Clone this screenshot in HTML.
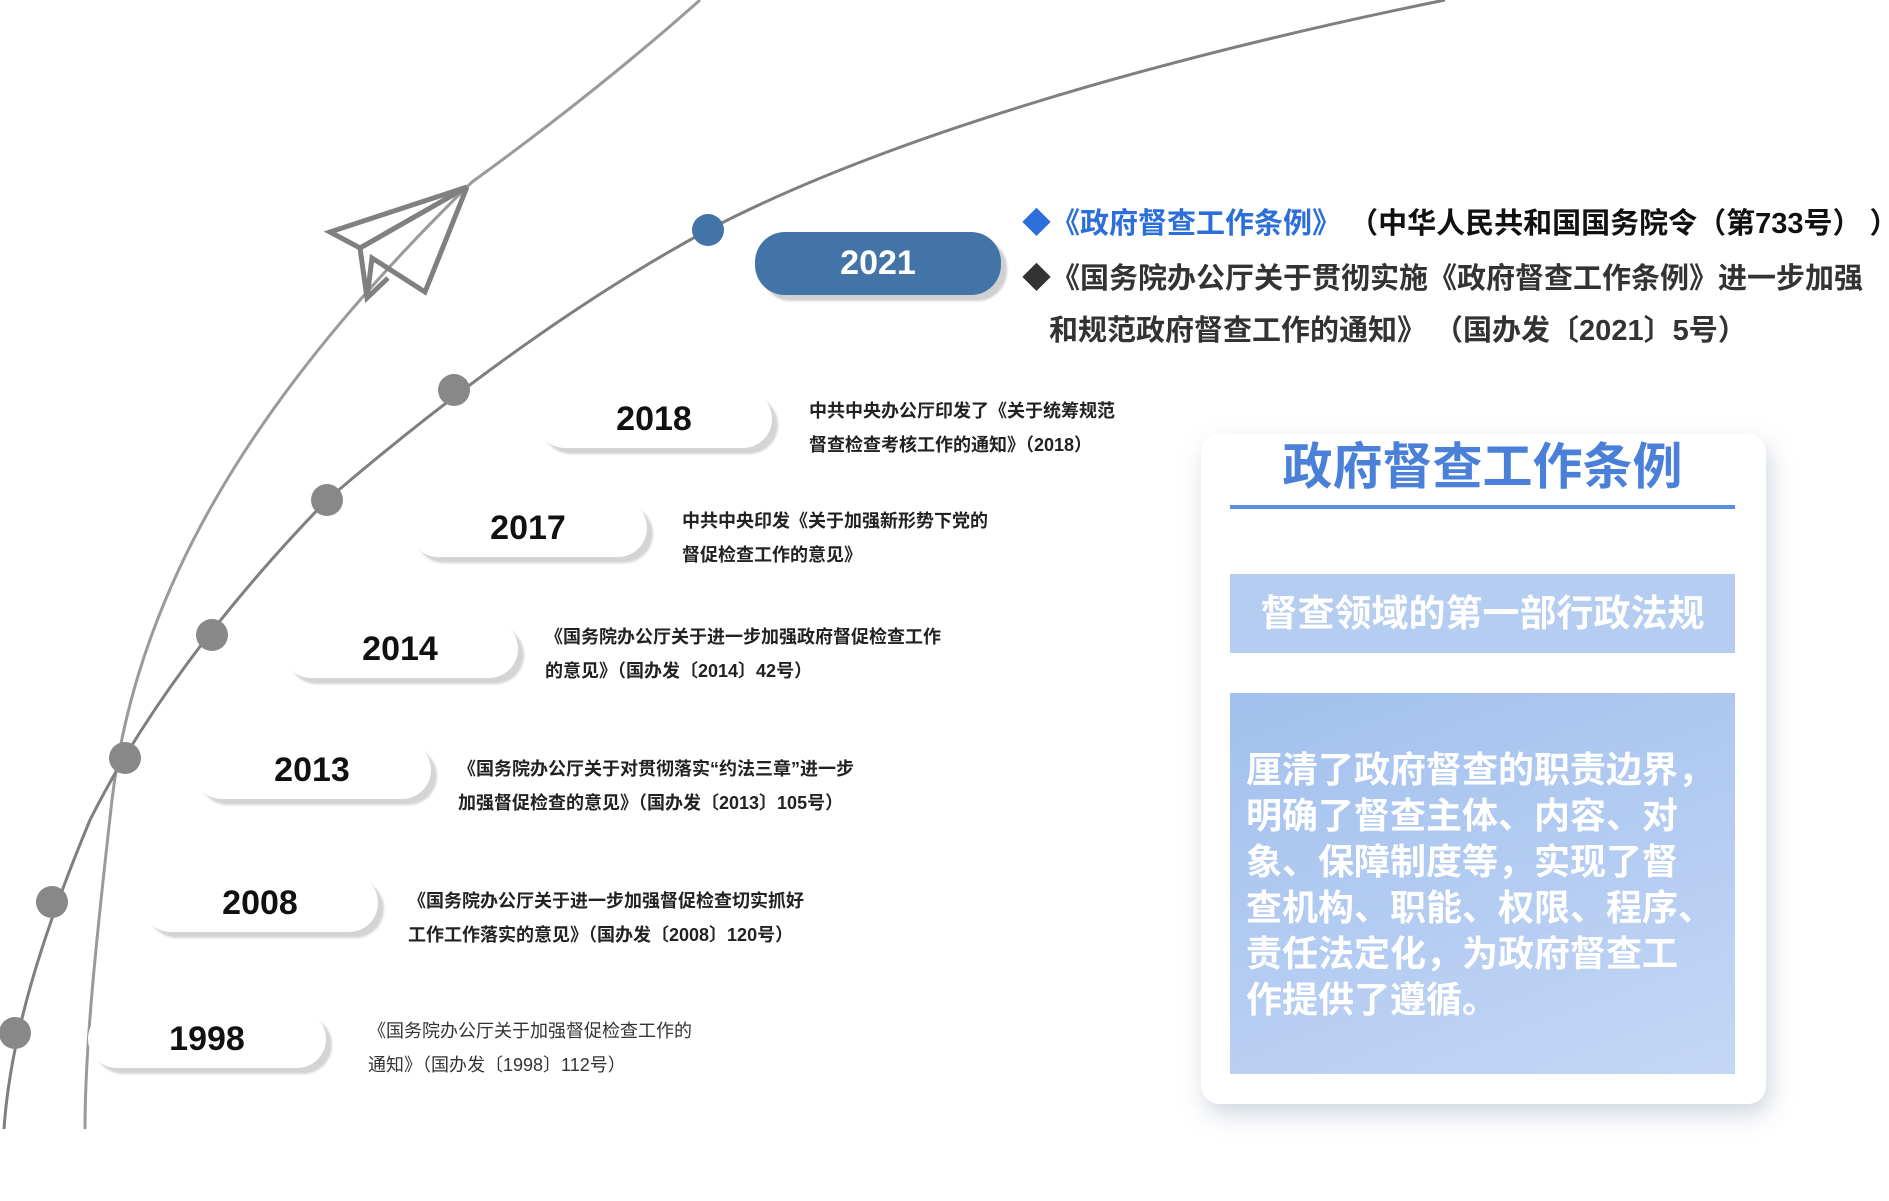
<!DOCTYPE html>
<html><head><meta charset="utf-8"><style>
body{margin:0;width:1889px;height:1201px;background:#fff;position:relative;overflow:hidden;font-family:"Liberation Sans","Noto Sans CJK SC",sans-serif}
.pill{position:absolute;background:#fff;border-radius:30px;box-shadow:6px 6px 2px #d4d4d4;font-weight:bold;font-size:34px;color:#111;text-align:center}
.t{position:absolute;font-weight:bold;font-size:18px;line-height:34px;color:#222;white-space:nowrap}
.r{position:absolute;font-weight:bold;font-size:29px;white-space:nowrap;color:#333}
</style></head><body>
<svg width="1889" height="1201" style="position:absolute;left:0;top:0">
<path d="M700,0 C610,80 530,140 472,182 C290,360 140,560 112,800 C95,950 85,1050 85,1129" fill="none" stroke="#9a9a9a" stroke-width="3"/>
<path d="M1445,0 C1150,60 880,140 708,230 C560,310 420,420 327,500 C220,610 140,720 90,820 C40,940 10,1040 4,1129" fill="none" stroke="#7f7f7f" stroke-width="3"/>
<g fill="none" stroke="#808080" stroke-width="5" stroke-linejoin="miter">
<polygon points="467,187 330,232 360,248"/>
<polyline points="467,187 360,248 367,298 388,278"/>
<polyline points="467,187 425,292 372,258 367,298"/>
</g>
<g fill="#888">
<circle cx="454" cy="390" r="16"/><circle cx="327" cy="500" r="16"/><circle cx="212" cy="635" r="16"/><circle cx="125" cy="758" r="16"/><circle cx="52" cy="902" r="16"/><circle cx="15" cy="1033" r="16"/>
</g>
<circle cx="708" cy="230" r="16" fill="#4374a8"/>
</svg>
<div class="pill" style="left:755px;top:232px;width:246px;height:63px;line-height:63px;background:#4374a8;color:#fff;box-shadow:6px 6px 2px #d0d0d0">2021</div>
<div class="pill" style="left:536px;top:390px;width:236px;height:58px;line-height:58px">2018</div>
<div class="pill" style="left:409px;top:499px;width:238px;height:58px;line-height:58px">2017</div>
<div class="pill" style="left:282px;top:620px;width:236px;height:58px;line-height:58px">2014</div>
<div class="pill" style="left:193px;top:741px;width:238px;height:58px;line-height:58px">2013</div>
<div class="pill" style="left:142px;top:874px;width:236px;height:58px;line-height:58px">2008</div>
<div class="pill" style="left:88px;top:1010px;width:238px;height:58px;line-height:58px">1998</div>
<div class="r" style="left:1022px;top:200px"><span style="color:#2d6fd8">◆《政府督查工作条例》</span><span style="color:#111">&nbsp;（中华人民共和国国务院令（第733号）&nbsp;）</span></div>
<div class="r" style="left:1022px;top:255px">◆《国务院办公厅关于贯彻实施《政府督查工作条例》进一步加强</div>
<div class="r" style="left:1049px;top:307px">和规范政府督查工作的通知》&nbsp;（国办发〔2021〕5号）</div>
<div class="t" style="left:809px;top:394px">中共中央办公厅印发了《关于统筹规范<br>督查检查考核工作的通知》（2018）</div>
<div class="t" style="left:682px;top:504px">中共中央印发《关于加强新形势下党的<br>督促检查工作的意见》</div>
<div class="t" style="left:545px;top:620px">《国务院办公厅关于进一步加强政府督促检查工作<br>的意见》（国办发〔2014〕42号）</div>
<div class="t" style="left:458px;top:752px">《国务院办公厅关于对贯彻落实“约法三章”进一步<br>加强督促检查的意见》（国办发〔2013〕105号）</div>
<div class="t" style="left:408px;top:884px">《国务院办公厅关于进一步加强督促检查切实抓好<br>工作工作落实的意见》（国办发〔2008〕120号）</div>
<div class="t" style="left:368px;top:1014px;font-weight:normal;color:#333">《国务院办公厅关于加强督促检查工作的<br>通知》（国办发〔1998〕112号）</div>
<div style="position:absolute;left:1201px;top:434px;width:565px;height:670px;background:#fff;border-radius:18px;box-shadow:4px 10px 24px rgba(120,140,170,0.35)"></div>
<div style="position:absolute;left:1230px;top:436px;width:505px;text-align:center;font-size:50px;font-weight:bold;color:#4a80d8;line-height:62px">政府督查工作条例</div>
<div style="position:absolute;left:1230px;top:505px;width:505px;height:4px;background:#5a8ee0"></div>
<div style="position:absolute;left:1230px;top:574px;width:505px;height:79px;background:#b4cdf0;color:#fff;font-size:37px;font-weight:bold;text-align:center;line-height:79px">督查领域的第一部行政法规</div>
<div style="position:absolute;left:1230px;top:693px;width:505px;height:381px;background:linear-gradient(160deg,#a2c0ee,#c4d7f5);"></div>
<div style="position:absolute;left:1246px;top:747px;width:490px;color:#fff;font-size:36px;font-weight:bold;line-height:46px;white-space:nowrap">厘清了政府督查的职责边界，<br>明确了督查主体、内容、对<br>象、保障制度等，实现了督<br>查机构、职能、权限、程序、<br>责任法定化，为政府督查工<br>作提供了遵循。</div>
</body></html>
